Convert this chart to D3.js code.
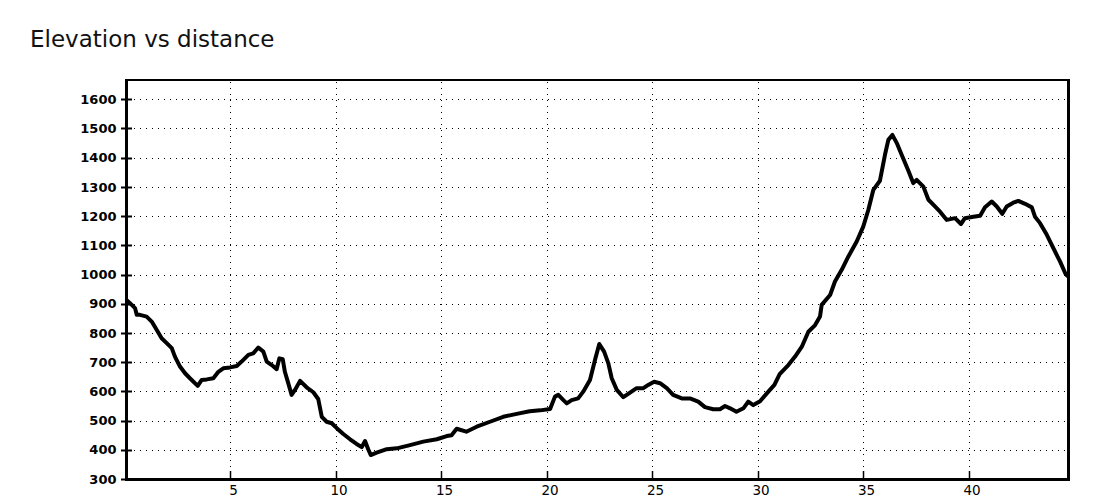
<!DOCTYPE html>
<html>
<head>
<meta charset="utf-8">
<script src="https://cdn.jsdelivr.net/npm/d3@7"></script>
<style>
  html, body { margin: 0; padding: 0; background: #fff; }
  svg { display: block; }
</style>
</head>
<body>
<svg id="chart" width="1100" height="500"></svg>
<script>
const titleText = "Elevation vs distance";
const xTicks = [5, 10, 15, 20, 25, 30, 35, 40];
const yTicks = [300, 400, 500, 600, 700, 800, 900, 1000, 1100, 1200, 1300, 1400, 1500, 1600];
const distanceKm = [
  0, 0.26, 0.5, 0.58, 0.73, 1.05, 1.29, 1.53, 1.76, 2.0, 2.24, 2.39, 2.63, 2.87, 3.1, 3.47, 3.66, 3.9, 4.21, 4.45,
  4.68, 5.0, 5.32, 5.55, 5.87, 6.1, 6.34, 6.58, 6.74, 6.98, 7.21, 7.34, 7.5, 7.6, 7.76, 7.92, 8.08, 8.32, 8.63, 8.95,
  9.18, 9.35, 9.58, 9.82, 10.06, 10.37, 10.69, 11.0, 11.24, 11.4, 11.55, 11.67, 11.95, 12.43, 12.9, 13.53, 14.16, 14.8, 15.27, 15.5,
  15.74, 16.2, 16.69, 17.32, 17.95, 18.59, 19.2, 19.7, 20.17, 20.4, 20.56, 20.8, 20.96, 21.19, 21.5, 21.74, 22.06, 22.3, 22.5, 22.73,
  22.93, 23.09, 23.33, 23.64, 23.96, 24.27, 24.59, 24.82, 25.1, 25.38, 25.7, 26.0, 26.41, 26.8, 27.19, 27.51, 27.9, 28.22, 28.46, 28.7,
  29.0, 29.33, 29.56, 29.8, 30.12, 30.44, 30.8, 31.05, 31.46, 31.78, 32.1, 32.41, 32.73, 32.96, 33.04, 33.44, 33.67, 33.99, 34.3, 34.7,
  35.01, 35.25, 35.49, 35.8, 36.04, 36.2, 36.39, 36.6, 36.83, 37.15, 37.38, 37.54, 37.86, 38.1, 38.41, 38.65, 38.97, 39.36, 39.64, 39.83,
  40.23, 40.55, 40.78, 41.1, 41.34, 41.6, 41.81, 42.12, 42.36, 42.68, 43.0, 43.15, 43.39, 43.71, 44.02, 44.34, 44.6, 44.7
];
const elevationM = [
  919, 902, 885, 862, 862, 856, 839, 810, 782, 765, 748, 719, 685, 662, 645, 619, 639, 641, 645, 667,
  679, 682, 687, 702, 725, 730, 750, 736, 702, 690, 676, 713, 710, 667, 628, 588, 605, 636, 614, 597,
  574, 513, 496, 491, 474, 454, 436, 420, 409, 430, 402, 382, 390, 402, 405, 416, 428, 436, 447, 450,
  472, 462, 479, 496, 513, 523, 532, 535, 540, 582, 588, 570, 559, 570, 576, 599, 639, 708, 762, 736,
  696, 645, 605, 580, 596, 611, 611, 622, 633, 628, 611, 588, 576, 576, 565, 546, 539, 539, 550, 542,
  530, 542, 565, 553, 566, 593, 622, 659, 690, 719, 753, 804, 827, 856, 896, 930, 976, 1016, 1061, 1113,
  1164, 1221, 1290, 1321, 1410, 1461, 1478, 1450, 1410, 1355, 1313, 1324, 1301, 1256, 1233, 1215, 1187, 1193, 1173, 1193,
  1198, 1201, 1230, 1250, 1233, 1208, 1233, 1246, 1252, 1242, 1230, 1198, 1176, 1136, 1090, 1044, 1002, 995
];

const svg = d3.select("#chart");
const plotLeft = 124.5, plotRight = 1067.7, plotTop = 80, plotBottom = 479;
const x = d3.scaleLinear().domain([0, 44.7]).range([plotLeft, plotRight]);
const y = d3.scaleLinear().domain([300, 1666]).range([plotBottom, plotTop]);

svg.append("text")
  .attr("x", 30).attr("y", 47)
  .attr("font-family", "DejaVu Sans")
  .attr("font-size", 23)
  .attr("fill", "#111")
  .text(titleText);

// grid
const grid = svg.append("g");
grid.selectAll("line.h").data(yTicks.filter(d => d > 300)).enter().append("line")
  .attr("x1", 128).attr("x2", 1067)
  .attr("y1", d => Math.round(y(d)) + 0.5).attr("y2", d => Math.round(y(d)) + 0.5)
  .attr("stroke", "#000").attr("stroke-width", 1).attr("stroke-dasharray", "1,5");
grid.selectAll("line.v").data(xTicks).enter().append("line")
  .attr("y1", 82).attr("y2", 478)
  .attr("x1", d => Math.round(x(d)) + 0.5).attr("x2", d => Math.round(x(d)) + 0.5)
  .attr("stroke", "#000").attr("stroke-width", 1).attr("stroke-dasharray", "1,5");

// y axis
const yAxis = d3.axisLeft(y).tickValues(yTicks).tickSize(0).tickPadding(8).tickFormat(d3.format("d"));
const gy = svg.append("g").attr("transform", `translate(${plotLeft},0)`).call(yAxis);
gy.select(".domain").remove();
gy.selectAll("text").attr("font-family", "DejaVu Sans").attr("font-weight", "bold")
  .attr("font-size", 13).attr("fill", "#000");
svg.append("g").selectAll("line").data(yTicks).enter().append("line")
  .attr("x1", 121).attr("x2", 132)
  .attr("y1", d => Math.round(y(d)) + 0.5).attr("y2", d => Math.round(y(d)) + 0.5)
  .attr("stroke", "#000").attr("stroke-width", 2);

// x axis
const xAxis = d3.axisBottom(x).tickValues(xTicks).tickSize(0).tickPadding(6).tickFormat(d3.format("d"));
const gx = svg.append("g").attr("transform", `translate(0,${plotBottom})`).call(xAxis);
gx.select(".domain").remove();
gx.selectAll("text").attr("font-family", "DejaVu Sans")
  .attr("font-size", 13.5).attr("fill", "#000").attr("dx", 3);
svg.append("g").selectAll("line").data(xTicks).enter().append("line")
  .attr("y1", 471).attr("y2", 479)
  .attr("x1", d => Math.round(x(d)) + 0.5).attr("x2", d => Math.round(x(d)) + 0.5)
  .attr("stroke", "#000").attr("stroke-width", 1.5);

// frame
const frame = svg.append("g").attr("stroke", "#000");
frame.append("line").attr("x1", 126.5).attr("x2", 126.5).attr("y1", 79).attr("y2", 481).attr("stroke-width", 3);
frame.append("line").attr("x1", 125).attr("x2", 1070).attr("y1", 80).attr("y2", 80).attr("stroke-width", 2);
frame.append("line").attr("x1", 1068.5).attr("x2", 1068.5).attr("y1", 79).attr("y2", 481).attr("stroke-width", 3);
frame.append("line").attr("x1", 125).attr("x2", 1070).attr("y1", 479.5).attr("y2", 479.5).attr("stroke-width", 3);

// clip + profile line
svg.append("clipPath").attr("id", "clip").append("rect")
  .attr("x", 125).attr("y", 80).attr("width", 943).attr("height", 399);
const pts = distanceKm.map((d, i) => [d, elevationM[i]]);
svg.append("path")
  .datum(pts)
  .attr("clip-path", "url(#clip)")
  .attr("fill", "none")
  .attr("stroke", "#000")
  .attr("stroke-width", 4)
  .attr("stroke-linejoin", "round")
  .attr("stroke-linecap", "round")
  .attr("d", d3.line().x(d => x(d[0])).y(d => y(d[1])));
</script>
</body>
</html>
